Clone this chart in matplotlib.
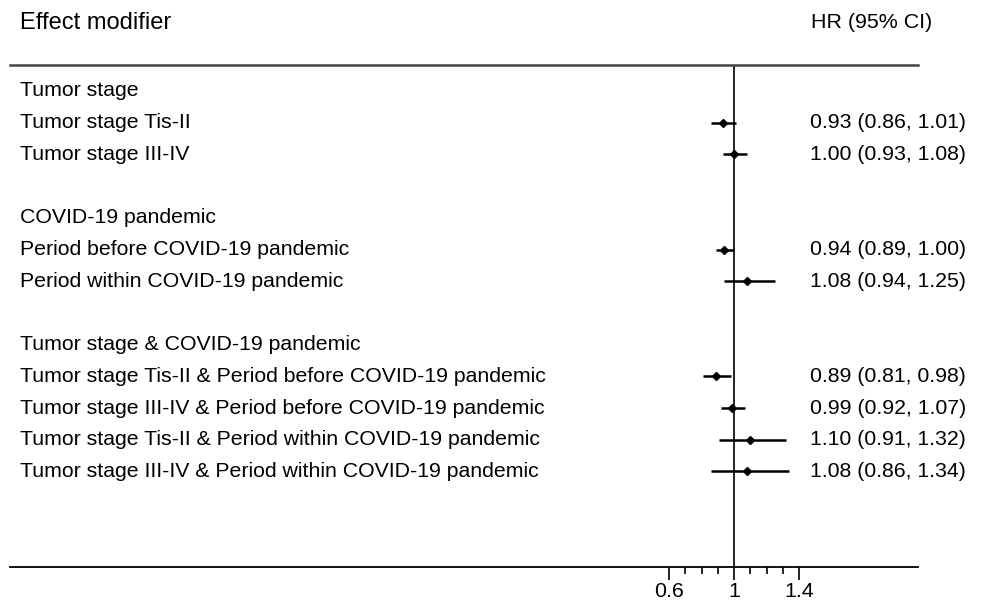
import matplotlib.pyplot as plt
import matplotlib.transforms as mtransforms
from matplotlib.ticker import FixedLocator

plt.rcParams['font.family'] = ['Liberation Sans', 'DejaVu Sans']

# rows top to bottom; None marks a heading or blank row
labels = [
    "Tumor stage",
    "Tumor stage Tis-II",
    "Tumor stage III-IV",
    "",
    "COVID-19 pandemic",
    "Period before COVID-19 pandemic",
    "Period within COVID-19 pandemic",
    "",
    "Tumor stage & COVID-19 pandemic",
    "Tumor stage Tis-II & Period before COVID-19 pandemic",
    "Tumor stage III-IV & Period before COVID-19 pandemic",
    "Tumor stage Tis-II & Period within COVID-19 pandemic",
    "Tumor stage III-IV & Period within COVID-19 pandemic",
]
hr = [None, 0.93, 1.00, None, None, 0.94, 1.08, None, None, 0.89, 0.99, 1.10, 1.08]
lo = [None, 0.86, 0.93, None, None, 0.89, 0.94, None, None, 0.81, 0.92, 0.91, 0.86]
hi = [None, 1.01, 1.08, None, None, 1.00, 1.25, None, None, 0.98, 1.07, 1.32, 1.34]

major_ticks = [0.6, 1, 1.4]
minor_ticks = [0.7, 0.8, 0.9, 1.1, 1.2, 1.3]

W, H = 981, 601
fig = plt.figure(figsize=(W / 100, H / 100), dpi=100)
ax = fig.add_axes([10 / W, (H - 567) / H, (918 - 10) / W, (567 - 65) / H])

# pixel scale: 1 -> x=734, 0.4 units = 65 px
ppu = 65 / 0.4
ax.set_xlim(1 - (734 - 10) / ppu, 1 + (918 - 734) / ppu)
ax.set_ylim((567 - 91) / 31.7, (65 - 91) / 31.7)

for spine in ["left", "right"]:
    ax.spines[spine].set_visible(False)
ax.spines["top"].set_color("#444444")
ax.spines["top"].set_linewidth(1.8)
ax.spines["bottom"].set_linewidth(1.3)
ax.set_yticks([])
ax.xaxis.set_major_locator(FixedLocator(major_ticks))
ax.xaxis.set_minor_locator(FixedLocator(minor_ticks))
ax.set_xticklabels(["0.6", "1", "1.4"])
ax.tick_params(axis="x", which="major", length=9, width=1.2, labelsize=15.4, pad=2)
ax.tick_params(axis="x", which="minor", length=5, width=1.2)

ax.axvline(1, color="black", lw=1.2)

trans = mtransforms.blended_transform_factory(fig.transFigure, ax.transData)
for i, lab in enumerate(labels):
    ax.text(20 / W, i, lab, transform=trans, ha="left", va="center", fontsize=15.3)
    if hr[i] is not None:
        ax.plot([lo[i], hi[i]], [i, i], color="black", lw=1.8, solid_capstyle="butt")
        ax.plot(hr[i], i, marker="D", color="black", markersize=4.5)
        ax.text(810 / W, i, f"{hr[i]:.2f} ({lo[i]:.2f}, {hi[i]:.2f})",
                transform=trans, ha="left", va="center", fontsize=15.3)

fig.text(20 / W, 1 - 23 / H, "Effect modifier", ha="left", va="center", fontsize=17)
fig.text(811 / W, 1 - 23 / H, "HR (95% CI)", ha="left", va="center", fontsize=15.4)

fig.savefig("out.png", dpi=100)
